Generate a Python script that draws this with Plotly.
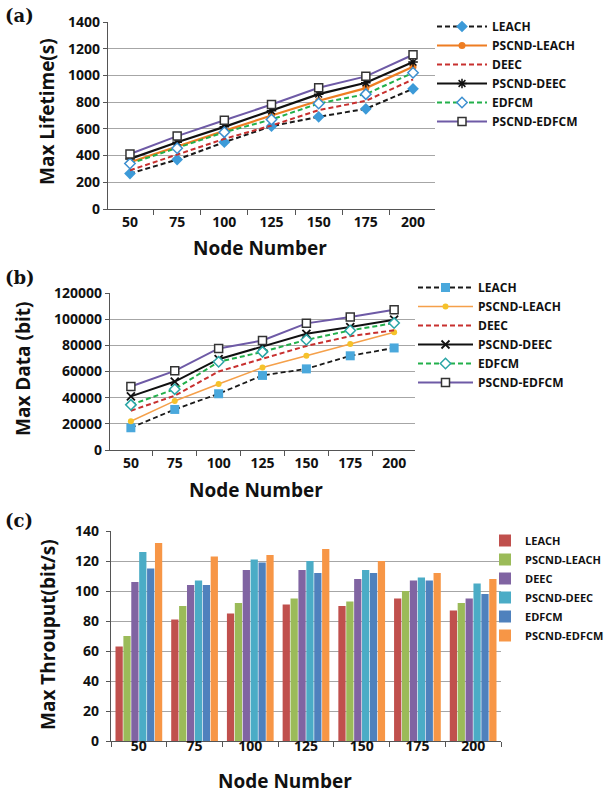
import plotly.graph_objects as go

nodes = ["50", "75", "100", "125", "150", "175", "200"]
series = ["LEACH", "PSCND-LEACH", "DEEC", "PSCND-DEEC", "EDFCM", "PSCND-EDFCM"]

# (a) Max Lifetime (s)
life_leach = [265, 370, 500, 620, 690, 750, 900]
life_pleach = [350, 470, 585, 700, 810, 905, 1065]
life_deec = [290, 410, 525, 625, 740, 810, 970]
life_pdeec = [375, 500, 615, 735, 860, 945, 1100]
life_edfcm = [340, 455, 575, 670, 790, 860, 1020]
life_pedfcm = [412, 546, 665, 782, 908, 993, 1155]

# (b) Max Data (bit)
data_leach = [17000, 31000, 43000, 57000, 62000, 72000, 78000]
data_pleach = [22000, 37500, 50500, 63000, 72000, 81000, 90000]
data_deec = [30000, 41500, 60000, 69500, 79500, 87000, 91500]
data_pdeec = [41000, 52300, 69400, 79000, 88800, 94000, 99600]
data_edfcm = [34500, 46500, 67400, 75000, 84200, 91400, 97000]
data_pedfcm = [48500, 60500, 77600, 83700, 96800, 101600, 107200]

# (c) Max Throughput (bit/s)
thr_leach = [63, 81, 85, 91, 90, 95, 87]
thr_pleach = [70, 90, 92, 95, 93, 100, 92]
thr_deec = [106, 104, 114, 114, 108, 107, 95]
thr_pdeec = [126, 107, 121, 120, 114, 109, 105]
thr_edfcm = [115, 104, 119, 112, 112, 107, 98]
thr_pedfcm = [132, 123, 124, 128, 120, 112, 108]

W, H = 614, 796
def px(x):
    return x / W
def py(y):
    return 1 - y / H

FONT = "Open Sans"
fig = go.Figure()

# ---------- panel (a) ----------
a_styles = [
    dict(line=dict(color="#1a1a1a", width=2, dash="5px,3px"),
         marker=dict(symbol="diamond", size=9, color="#3C9AD8")),
    dict(line=dict(color="#EE7D22", width=2.2),
         marker=dict(symbol="circle", size=7, color="#EE7D22")),
    dict(line=dict(color="#C8302F", width=2, dash="5px,3px"), mode="lines"),
    dict(line=dict(color="#111111", width=2.2),
         marker=dict(symbol="asterisk-open", size=8, line=dict(color="#111111", width=1.5))),
    dict(line=dict(color="#22B04B", width=2, dash="5px,3px"),
         marker=dict(symbol="diamond", size=8, color="white", line=dict(color="#3C8FD0", width=1.5))),
    dict(line=dict(color="#6E5AA6", width=2),
         marker=dict(symbol="square", size=8, color="white", line=dict(color="#333333", width=1.5))),
]
a_vals = [life_leach, life_pleach, life_deec, life_pdeec, life_edfcm, life_pedfcm]
for name, vals, st in zip(series, a_vals, a_styles):
    mode = st.pop("mode", "lines+markers")
    fig.add_trace(go.Scatter(x=nodes, y=vals, name=name, mode=mode, xaxis="x", yaxis="y",
                             legend="legend", **st))

# ---------- panel (b) ----------
b_styles = [
    dict(line=dict(color="#1a1a1a", width=1.8, dash="5px,3px"),
         marker=dict(symbol="square", size=9, color="#4AA8DC")),
    dict(line=dict(color="#F5A04A", width=1.5),
         marker=dict(symbol="circle", size=6, color="#F5C22A")),
    dict(line=dict(color="#C8302F", width=2, dash="5px,3px"), mode="lines"),
    dict(line=dict(color="#111111", width=2),
         marker=dict(symbol="x-thin-open", size=8, line=dict(color="#111111", width=1.8))),
    dict(line=dict(color="#22B04B", width=2, dash="5px,3px"),
         marker=dict(symbol="diamond", size=8, color="white", line=dict(color="#2AA6A6", width=1.5))),
    dict(line=dict(color="#6E5AA6", width=2),
         marker=dict(symbol="square", size=8, color="white", line=dict(color="#333333", width=1.5))),
]
b_vals = [data_leach, data_pleach, data_deec, data_pdeec, data_edfcm, data_pedfcm]
for name, vals, st in zip(series, b_vals, b_styles):
    mode = st.pop("mode", "lines+markers")
    fig.add_trace(go.Scatter(x=nodes, y=vals, name=name, mode=mode, xaxis="x2", yaxis="y2",
                             legend="legend2", **st))

# ---------- panel (c) ----------
c_colors = ["#C0504D", "#9BBB59", "#8064A2", "#4BACC6", "#4F81BD", "#F79646"]
c_vals = [thr_leach, thr_pleach, thr_deec, thr_pdeec, thr_edfcm, thr_pedfcm]
for name, vals, col in zip(series, c_vals, c_colors):
    fig.add_trace(go.Bar(x=nodes, y=vals, name=name, marker=dict(color=col, line=dict(width=0)),
                         xaxis="x3", yaxis="y3", legend="legend3"))

tickfont = dict(family=FONT, size=14, color="#111111", weight="bold")
grid = "#A6A6A6"

def xax(domain, anchor, standoff=0):
    return dict(domain=domain, anchor=anchor, type="category", showline=True, linecolor="#555555",
                linewidth=1.2, ticks="outside", ticklen=5, tickcolor="#555555", tickson="boundaries",
                showgrid=False, tickfont=tickfont, fixedrange=True, ticklabelstandoff=standoff)

def yax(domain, anchor, rng, dtick, standoff=0):
    return dict(domain=domain, anchor=anchor, range=rng, dtick=dtick, showline=True,
                linecolor="#555555", linewidth=1.2, ticks="outside", ticklen=4, tickcolor="#555555",
                showgrid=True, gridcolor=grid, gridwidth=1.2, zeroline=False, tickfont=tickfont,
                fixedrange=True, tickformat="d", ticklabelstandoff=standoff)

legfont = dict(family=FONT, size=12, color="#111111", weight="bold")
legfont_c = dict(family=FONT, size=11, color="#111111", weight="bold")

fig.update_layout(
    width=W, height=H, margin=dict(l=0, r=0, t=0, b=0, autoexpand=False),
    paper_bgcolor="white", plot_bgcolor="white", showlegend=True,
    barmode="group", bargap=0.15, bargroupgap=0.08,
    xaxis=xax([px(108), px(435)], "y"),
    yaxis=yax([py(209), py(22)], "x", [0, 1400], 200),
    xaxis2=xax([px(110), px(415)], "y2"),
    yaxis2=yax([py(450), py(293)], "x2", [0, 120000], 20000),
    xaxis3=xax([px(111), px(501)], "y3", -8),
    yaxis3=yax([py(741), py(531)], "x3", [0, 140], 20, 4),
    legend=dict(x=px(432), y=py(12), xanchor="left", yanchor="top", font=legfont,
                bgcolor="rgba(0,0,0,0)", itemwidth=50, tracegroupgap=0),
    legend2=dict(x=px(413), y=py(273), xanchor="left", yanchor="top", font=legfont,
                 bgcolor="rgba(0,0,0,0)", itemwidth=55, tracegroupgap=0),
    legend3=dict(x=px(485), y=py(526), xanchor="left", yanchor="top", font=legfont_c,
                 bgcolor="rgba(0,0,0,0)", itemwidth=30, tracegroupgap=0),
)

title_font = dict(family=FONT, size=19, color="#111111", weight="bold")
panel_font = dict(family="DejaVu Serif", size=18, color="#111111", weight="bold")
ann = [
    dict(text="(a)", x=px(3), y=py(16), xanchor="left"),
    dict(text="(b)", x=px(3), y=py(277), xanchor="left"),
    dict(text="(c)", x=px(3), y=py(520), xanchor="left"),
]
for a in ann:
    a.update(font=panel_font, yanchor="middle")
titles = [
    dict(text="Max Lifetime(s)", x=px(47), y=py(112), textangle=-90),
    dict(text="Node Number", x=px(260), y=py(248)),
    dict(text="Max Data (bit)", x=px(23), y=py(369), textangle=-90),
    dict(text="Node Number", x=px(256), y=py(490)),
    dict(text="Max Throuput(bit/s)", x=px(48), y=py(634), textangle=-90),
    dict(text="Node Number", x=px(285), y=py(781)),
]
for t in titles:
    t.update(font=title_font, xanchor="center", yanchor="middle")
ann += titles
for a in ann:
    a.update(xref="paper", yref="paper", showarrow=False)
fig.update_layout(annotations=ann)

fig.write_html("out.html", config={"displayModeBar": False},
               post_script="document.body.style.margin='0';document.body.style.padding='0';")
